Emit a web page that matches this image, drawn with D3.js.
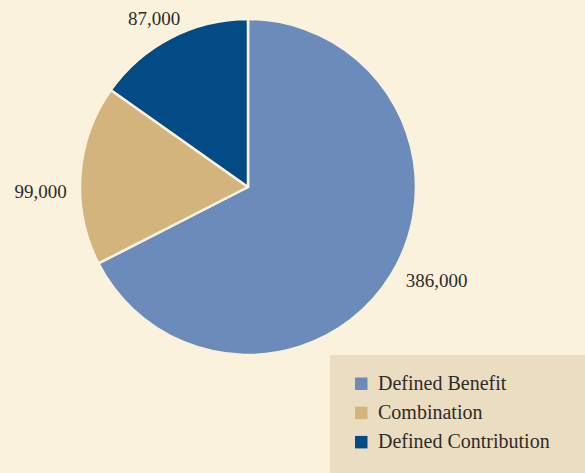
<!DOCTYPE html>
<html>
<head>
<meta charset="utf-8">
<script src="https://cdn.jsdelivr.net/npm/d3@7"></script>
<style>
  html, body { margin: 0; padding: 0; background: #faf2dc; }
  svg { display: block; font-family: "Liberation Serif", "DejaVu Serif", serif; }
</style>
</head>
<body>
<div id="chart"></div>
<script>
// Chart data
const categories = ["Defined Benefit", "Combination", "Defined Contribution"];
const values = [386000, 99000, 87000];
const colors = ["#6b8cba", "#d2b47c", "#034b84"];
// hand nudges for the value labels, relative to the label arc centroid
const labelNudge = [[18, -11], [-8, 19], [-2, 9]];

const width = 585, height = 473;
const cx = 248, cy = 187, radius = 168;

const svg = d3.select("#chart")
  .append("svg")
  .attr("width", width)
  .attr("height", height);

svg.append("rect")
  .attr("width", width)
  .attr("height", height)
  .attr("fill", "#faf2dc");

const data = categories.map((c, i) => ({ name: c, value: values[i], color: colors[i], nudge: labelNudge[i] }));

const pie = d3.pie().sort(null).value(d => d.value);
const arcs = pie(data);

const arc = d3.arc().innerRadius(0).outerRadius(radius);
const labelArc = d3.arc().innerRadius(200).outerRadius(200);

const g = svg.append("g").attr("transform", `translate(${cx},${cy})`);

g.selectAll("path")
  .data(arcs)
  .enter().append("path")
  .attr("d", arc)
  .attr("fill", d => d.data.color)
  .attr("stroke", "#faf2dc")
  .attr("stroke-width", 2.5)
  .attr("stroke-linejoin", "round");

const fmt = d3.format(",");
g.selectAll("text.lbl")
  .data(arcs)
  .enter().append("text")
  .attr("class", "lbl")
  .attr("transform", d => {
    const [x, y] = labelArc.centroid(d);
    return `translate(${x + d.data.nudge[0]},${y + d.data.nudge[1]})`;
  })
  .attr("text-anchor", "middle")
  .attr("dy", "0.35em")
  .attr("font-size", 19)
  .attr("fill", "#2e2b28")
  .text(d => fmt(d.data.value));

// Legend
const legend = svg.append("g").attr("transform", "translate(330,355)");
legend.append("rect")
  .attr("width", 255)
  .attr("height", 118)
  .attr("fill", "#ebddc2");

const items = legend.selectAll("g.item")
  .data(data)
  .enter().append("g")
  .attr("class", "item")
  .attr("transform", (d, i) => `translate(25,${22.5 + i * 29.2})`);

items.append("rect")
  .attr("width", 12.5)
  .attr("height", 12.5)
  .attr("fill", d => d.color);

items.append("text")
  .attr("x", 23)
  .attr("y", 12.5)
  .attr("font-size", 20)
  .attr("fill", "#2e2b28")
  .text(d => d.name);
</script>
</body>
</html>
